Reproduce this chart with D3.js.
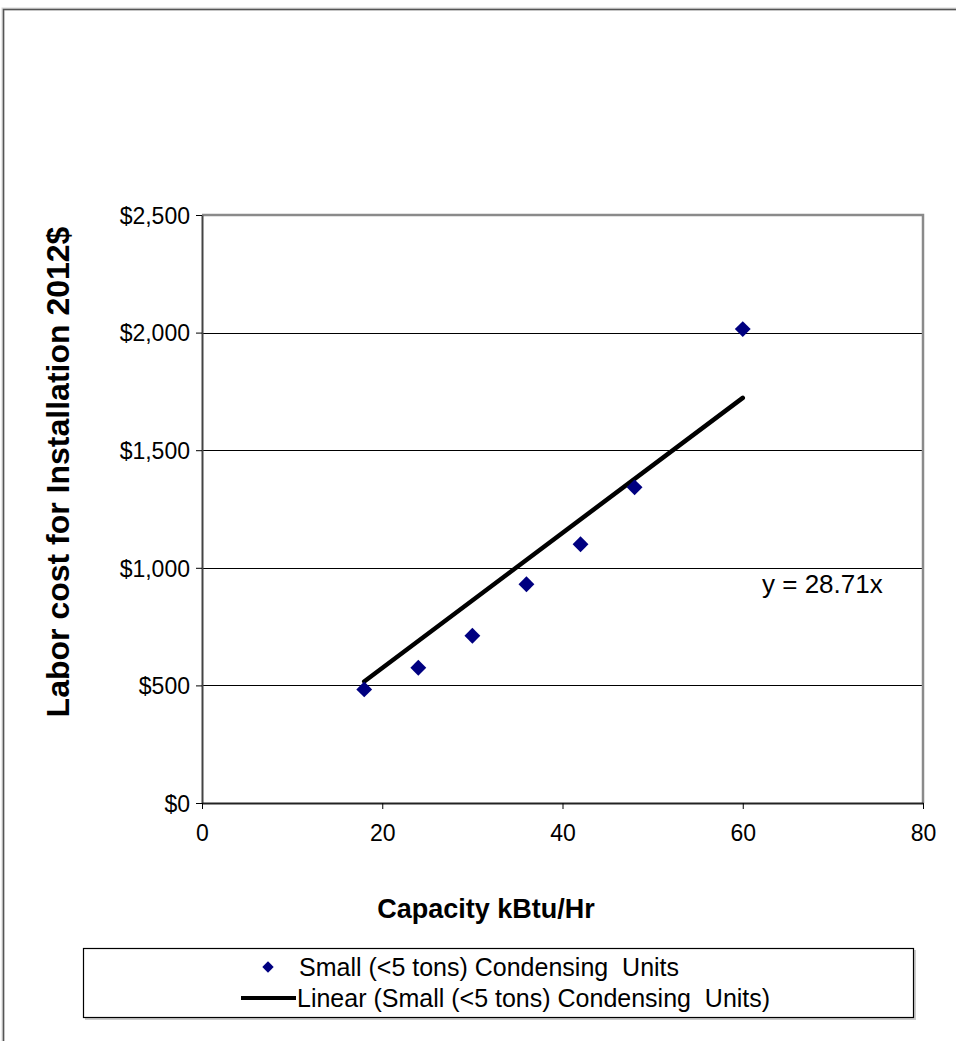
<!DOCTYPE html>
<html>
<head>
<meta charset="utf-8">
<script src="https://cdn.jsdelivr.net/npm/d3@7"></script>
<style>
  html, body { margin: 0; padding: 0; background: #fff; }
  svg { display: block; font-family: "Liberation Sans", Arial, sans-serif; }
</style>
</head>
<body>
<svg id="chart" width="956" height="1041"></svg>
<script>
// ---- data ----
const capacity = [18, 24, 30, 36, 42, 48, 60];
const laborCost = [483, 575, 711, 930, 1100, 1342, 2015];
const slope = 28.71;
const xTicks = [0, 20, 40, 60, 80];
const yTicks = [0, 500, 1000, 1500, 2000, 2500];
const seriesName = "Small (<5 tons) Condensing  Units";
const trendName = "Linear (Small (<5 tons) Condensing  Units)";
const equationLabel = "y = 28.71x";
const xTitle = "Capacity kBtu/Hr";
const yTitle = "Labor cost for Installation 2012$";

// ---- layout ----
const svg = d3.select("#chart");
const plot = { left: 202, right: 923, top: 215, bottom: 803 };

const x = d3.scaleLinear().domain([0, 80]).range([plot.left, plot.right]);
const y = d3.scaleLinear().domain([0, 2500]).range([plot.bottom, plot.top]);

// outer chart frame
svg.append("path")
  .attr("d", `M3,${1041 + 10} L3,9 L${956 + 10},9`)
  .attr("fill", "none").attr("stroke", "#d8d8d8").attr("stroke-width", 3);
svg.append("path")
  .attr("d", `M3.5,${1041 + 10} L3.5,9.5 L${956 + 10},9.5`)
  .attr("fill", "none").attr("stroke", "#555").attr("stroke-width", 1.5);

// gridlines
svg.append("g")
  .selectAll("line")
  .data(yTicks.filter(d => d > 0 && d < 2500))
  .join("line")
  .attr("x1", plot.left).attr("x2", plot.right)
  .attr("y1", d => Math.round(y(d)) + 0.5).attr("y2", d => Math.round(y(d)) + 0.5)
  .attr("stroke", "#000").attr("stroke-width", 1);

// plot border top & right (gray)
svg.append("path")
  .attr("d", `M${plot.left},${plot.top} L${plot.right},${plot.top} L${plot.right},${plot.bottom}`)
  .attr("fill", "none").attr("stroke", "#8a8a8a").attr("stroke-width", 2.5);

// axes
const yAxis = d3.axisLeft(y).tickValues(yTicks).tickSize(6).tickSizeOuter(0)
  .tickFormat(d => "$" + d3.format(",")(d));
const gy = svg.append("g").attr("transform", `translate(${plot.left},0)`).call(yAxis);
gy.select(".domain").attr("stroke", "#444").attr("stroke-width", 2);
gy.selectAll(".tick line").attr("stroke", "#000");
gy.selectAll(".tick text")
  .attr("x", -12).attr("dy", "0.36em")
  .attr("font-size", 23).attr("fill", "#000")
  .attr("font-family", "Liberation Sans, Arial, sans-serif");

const xAxis = d3.axisBottom(x).tickValues(xTicks).tickSize(6).tickSizeOuter(0);
const gx = svg.append("g").attr("transform", `translate(0,${plot.bottom})`).call(xAxis);
gx.select(".domain").attr("stroke", "#222").attr("stroke-width", 2);
gx.selectAll(".tick line").attr("stroke", "#000");
gx.selectAll(".tick text")
  .attr("y", 22).attr("dy", "0.71em")
  .attr("font-size", 23).attr("fill", "#000")
  .attr("font-family", "Liberation Sans, Arial, sans-serif");

// trend line
const xMin = d3.min(capacity), xMax = d3.max(capacity);
svg.append("line")
  .attr("x1", x(xMin)).attr("y1", y(slope * xMin))
  .attr("x2", x(xMax)).attr("y2", y(slope * xMax))
  .attr("stroke", "#000").attr("stroke-width", 4.5).attr("stroke-linecap", "round");

// points
const diamond = d3.symbol().type(d3.symbolDiamond2).size(160);
svg.append("g")
  .selectAll("path")
  .data(capacity.map((c, i) => [c, laborCost[i]]))
  .join("path")
  .attr("d", diamond)
  .attr("transform", d => `translate(${x(d[0])},${y(d[1])})`)
  .attr("fill", "#000080");

// equation label
svg.append("text")
  .attr("x", 762).attr("y", 593)
  .attr("font-size", 26).attr("fill", "#000")
  .text(equationLabel);

// axis titles
svg.append("text")
  .attr("x", 486).attr("y", 918)
  .attr("text-anchor", "middle")
  .attr("font-size", 27).attr("font-weight", "bold")
  .text(xTitle);
svg.append("text")
  .attr("transform", "translate(69,472) rotate(-90)")
  .attr("text-anchor", "middle")
  .attr("font-size", 32).attr("font-weight", "bold")
  .text(yTitle);

// legend
const lg = svg.append("g");
lg.append("rect")
  .attr("x", 85).attr("y", 950).attr("width", 831).attr("height", 70)
  .attr("fill", "#ccc");
lg.append("rect")
  .attr("x", 83.5).attr("y", 948.5).attr("width", 830).attr("height", 69)
  .attr("fill", "#fff").attr("stroke", "#000").attr("stroke-width", 1.2);
lg.append("path")
  .attr("d", diamond)
  .attr("transform", "translate(268,967) scale(0.72)")
  .attr("fill", "#000080");
lg.append("text")
  .attr("x", 299).attr("y", 976)
  .attr("font-size", 25).attr("fill", "#000")
  .style("white-space", "pre")
  .text(seriesName);
lg.append("line")
  .attr("x1", 241).attr("x2", 296).attr("y1", 998).attr("y2", 998)
  .attr("stroke", "#000").attr("stroke-width", 4);
lg.append("text")
  .attr("x", 297).attr("y", 1007)
  .attr("font-size", 25).attr("fill", "#000")
  .style("white-space", "pre")
  .text(trendName);
</script>
</body>
</html>
